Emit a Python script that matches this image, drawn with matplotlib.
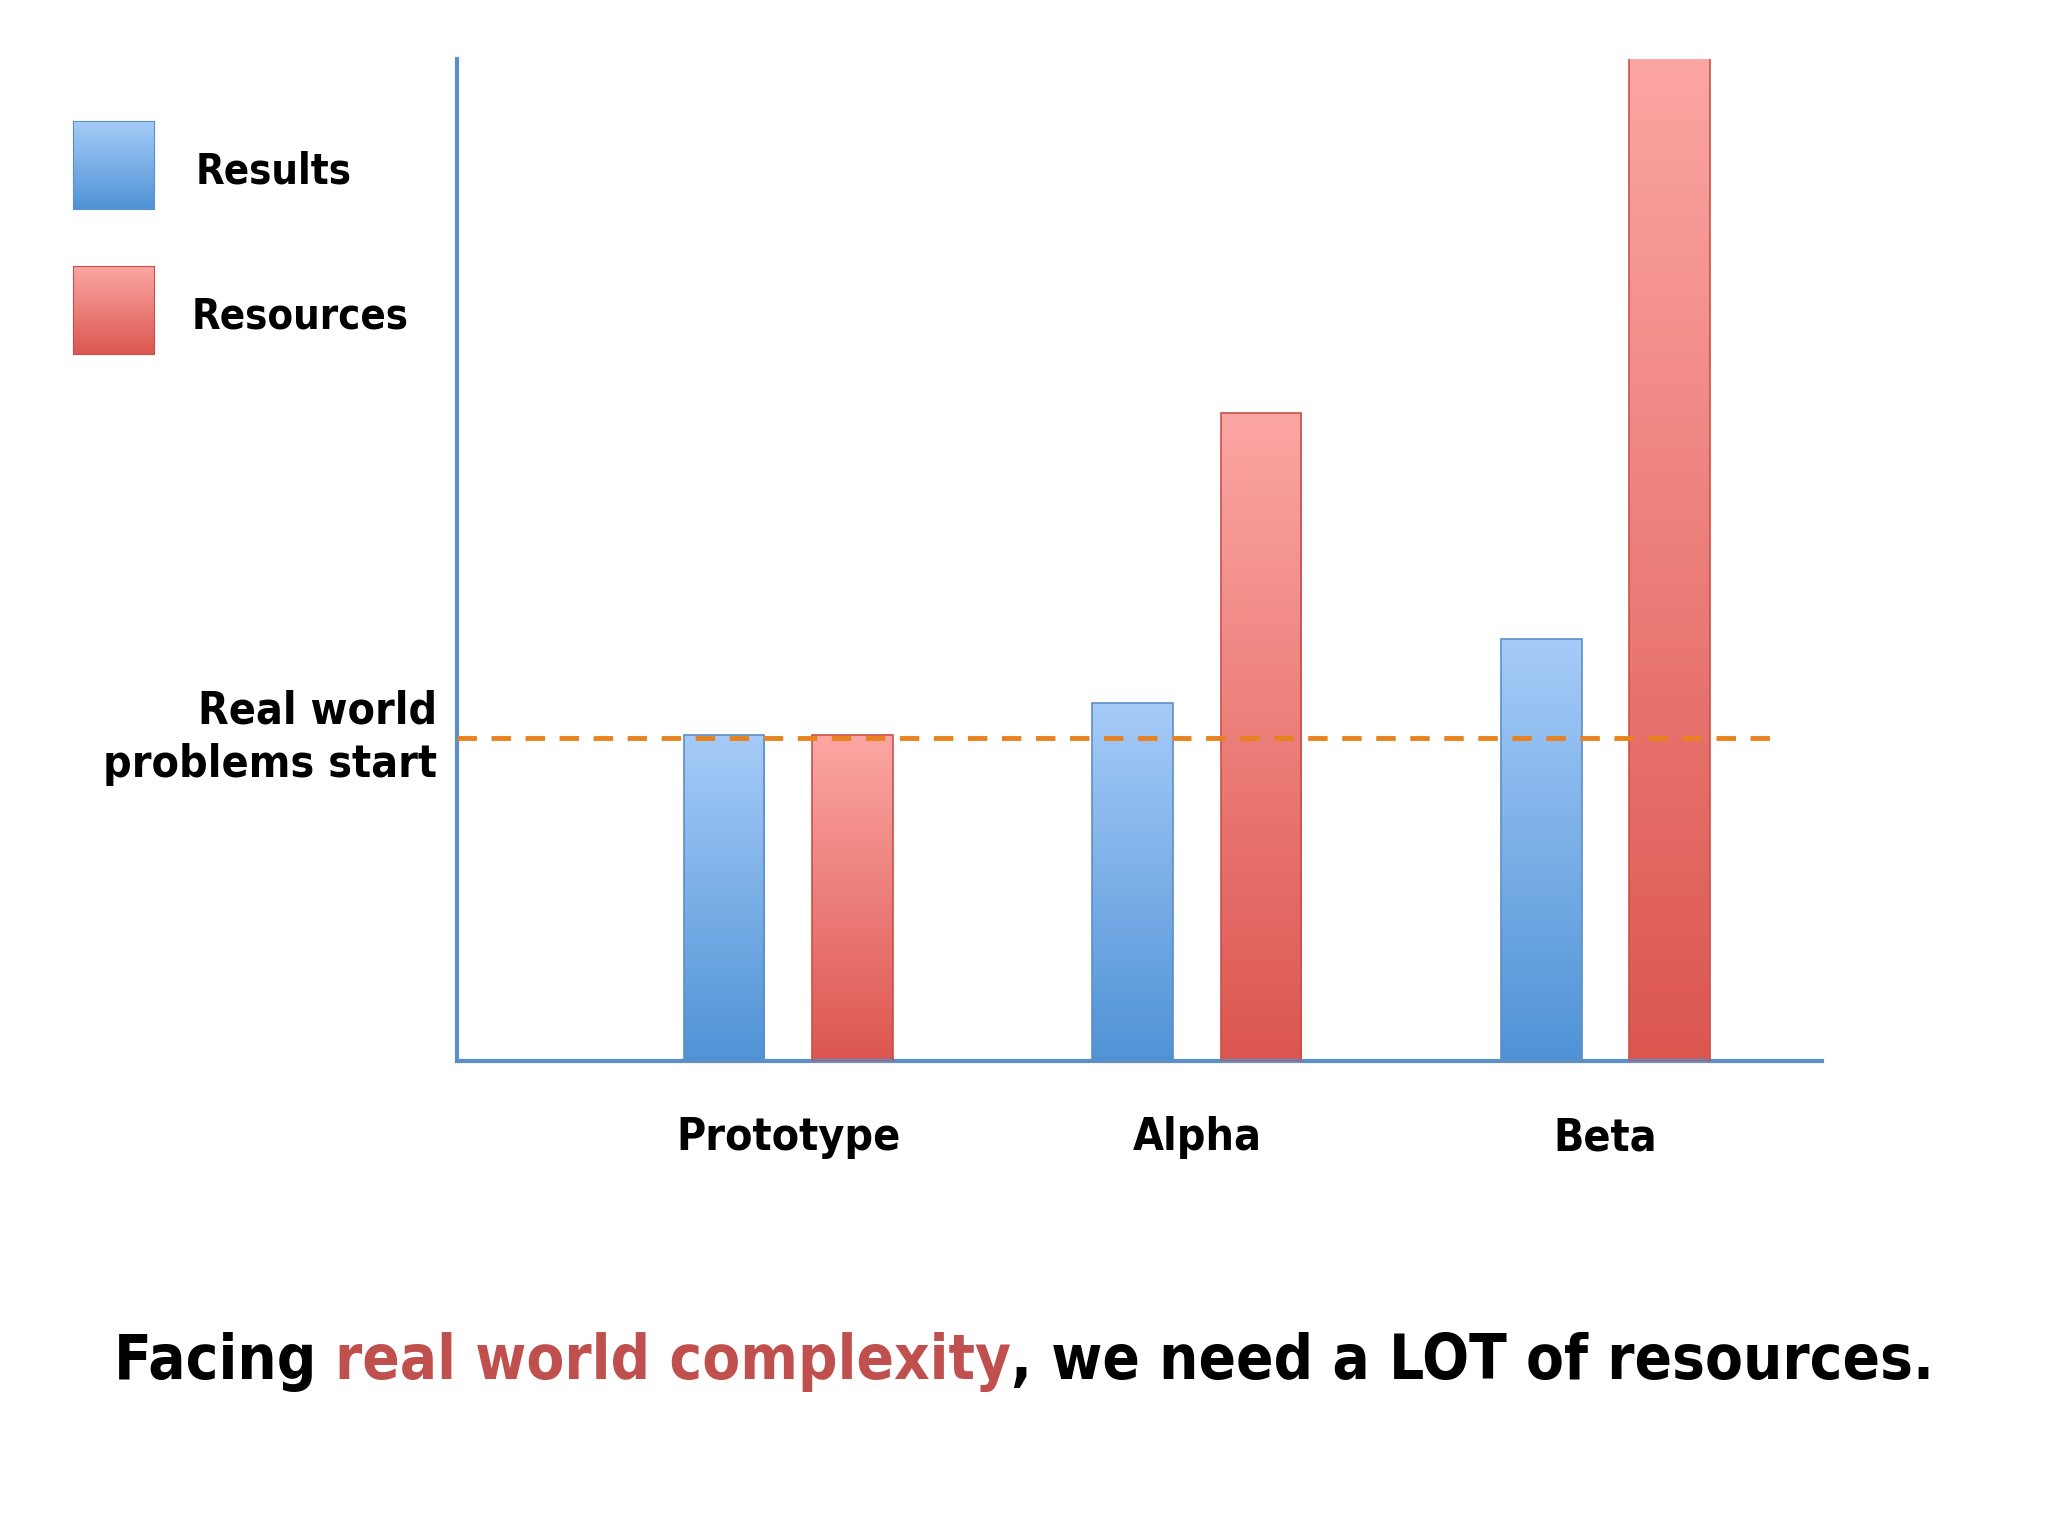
import numpy as np
import matplotlib.pyplot as plt
from matplotlib.colors import LinearSegmentedColormap

categories = ["Prototype", "Alpha", "Beta"]
results = [249, 274, 323]
resources = [249, 496, 768]
threshold = 247

FONT = ["DejaVu Sans"]
STRETCH = "condensed"
W, H = 1568, 1176  # layout reference units

fig = plt.figure(figsize=(20.48, 15.36), dpi=100)
ax = fig.add_axes([350 / W, 1 - 812 / H, (1395 - 350) / W, (812 - 45) / H])

blue_cm = LinearSegmentedColormap.from_list("b", ["#4f93d6", "#a6cbf8"])
red_cm = LinearSegmentedColormap.from_list("r", ["#dc5650", "#fca6a3"])
grad = np.linspace(0, 1, 256).reshape(-1, 1)

x = np.arange(len(categories))
width, off = 0.198, 0.157

def grad_bar(xc, h, cmap, edge):
    x0, x1 = xc - width / 2, xc + width / 2
    ax.imshow(grad, cmap=cmap, extent=[x0, x1, 0, h], origin="lower",
              aspect="auto", zorder=2)
    ax.add_patch(plt.Rectangle((x0, 0), width, h, fill=False, ec=edge, lw=1.2, zorder=3))

for i in x:
    grad_bar(i - off, results[i], blue_cm, "#5b8fc7")
    grad_bar(i + off, resources[i], red_cm, "#c9504a")

ax.plot([-0.81, 2.41], [threshold, threshold], ls=(0, (4, 3)), color="#e8821e", lw=3.5, zorder=4)

ax.set_xlim(-0.81, 2.53)
ax.set_ylim(0, 767)
for s in ["top", "right"]:
    ax.spines[s].set_visible(False)
for s in ["left", "bottom"]:
    ax.spines[s].set_color("#5b8fc7")
    ax.spines[s].set_linewidth(3)
ax.set_yticks([])
ax.set_xticks(x)
ax.set_xticklabels(categories, fontsize=32, fontweight="bold", family=FONT, fontstretch=STRETCH)
ax.tick_params(axis="x", length=0, pad=40)

ax.text(-0.86, threshold, "Real world\nproblems start", ha="right", va="center",
        fontsize=32, fontweight="bold", family=FONT, fontstretch=STRETCH, linespacing=1.3)

# legend
for y0, cmap, edge, label, lx in [(93, blue_cm, "#5b8fc7", "Results", 150),
                                  (204, red_cm, "#c9504a", "Resources", 147)]:
    lax = fig.add_axes([56 / W, 1 - (y0 + 67) / H, 62 / W, 67 / H])
    lax.imshow(grad, cmap=cmap, origin="lower", aspect="auto")
    for s in lax.spines.values():
        s.set_color(edge)
    lax.set_xticks([]); lax.set_yticks([])
    fig.text(lx / W, 1 - (y0 + 38) / H, label, fontsize=30, fontweight="bold",
             family=FONT, fontstretch=STRETCH, va="center")

# title with coloured segment, fitted to ~89% of the width
parts = [("Facing ", "black"), ("real world complexity", "#c0504d"),
         (", we need a LOT of resources.", "black")]
fig.canvas.draw()
r = fig.canvas.get_renderer()
texts = [fig.text(0, 0.113, s, fontsize=50, fontweight="bold", family=FONT,
                  fontstretch=STRETCH, color=c, va="center") for s, c in parts]

def widths():
    return [t.get_window_extent(r).width / fig.bbox.width for t in texts]

total = sum(widths())
if total > 0.89:
    for t in texts:
        t.set_fontsize(50 * 0.89 / total)
ws = widths()
cur = 0.5 - sum(ws) / 2
for t, w in zip(texts, ws):
    t.set_x(cur)
    cur += w

fig.savefig("out.png")
